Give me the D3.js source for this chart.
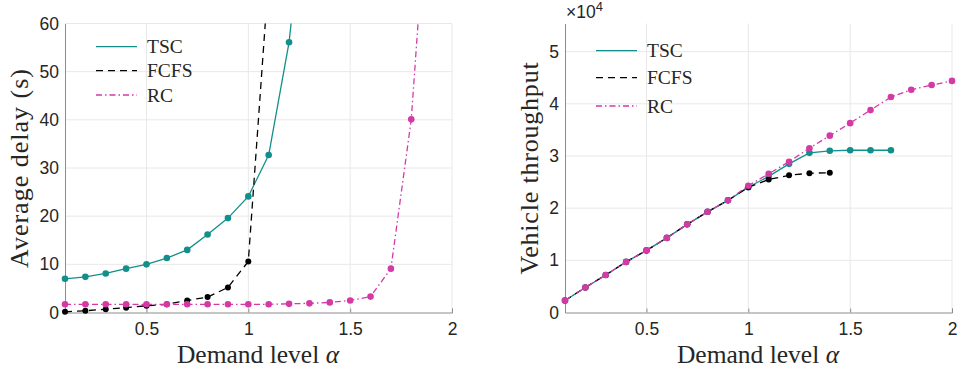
<!DOCTYPE html>
<html>
<head>
<meta charset="utf-8">
<script src="https://cdn.jsdelivr.net/npm/d3@7"></script>
<style>
  body { margin: 0; background: #fff; }
  svg { display: block; }
  .tick text { font-family: "Liberation Sans", Arial, sans-serif; font-size: 17.5px; fill: #262626; }
  .lbl { font-family: "Liberation Serif", "DejaVu Serif", serif; fill: #262626; }
</style>
</head>
<body>
<svg width="959" height="375"></svg>
<script>
// demand levels
const alpha = [0.1, 0.2, 0.3, 0.4, 0.5, 0.6, 0.7, 0.8, 0.9, 1.0, 1.1, 1.2, 1.3, 1.4, 1.5, 1.6, 1.7, 1.8, 1.9, 2.0];

// average delay (s)
const delayTSC  = [7.0, 7.4, 8.1, 9.1, 10.0, 11.3, 13.0, 16.2, 19.6, 24.1, 32.7, 56.1, 95];
const delayFCFS = [0.15, 0.35, 0.7, 1.0, 1.4, 1.7, 2.5, 3.2, 5.2, 10.6, 70];
const delayRC   = [1.7, 1.7, 1.7, 1.7, 1.7, 1.7, 1.7, 1.7, 1.7, 1.7, 1.7, 1.8, 1.9, 2.1, 2.5, 3.3, 9.1, 40.1, 100];

// vehicle throughput (x10^4)
const thrTSC  = [0.23, 0.48, 0.72, 0.97, 1.19, 1.43, 1.69, 1.93, 2.15, 2.40, 2.61, 2.85, 3.06, 3.10, 3.11, 3.11, 3.11];
const thrFCFS = [0.23, 0.48, 0.72, 0.97, 1.19, 1.43, 1.69, 1.93, 2.15, 2.40, 2.55, 2.63, 2.67, 2.68];
const thrRC   = [0.23, 0.48, 0.72, 0.97, 1.19, 1.43, 1.69, 1.93, 2.15, 2.43, 2.66, 2.89, 3.15, 3.39, 3.63, 3.88, 4.13, 4.27, 4.36, 4.44];

const xTicks = [0.5, 1, 1.5, 2];
const delayTicks = [0, 10, 20, 30, 40, 50, 60];
const thrTicks = [0, 1, 2, 3, 4, 5];
const names = ["TSC", "FCFS", "RC"];

const teal = "#128f8a", magenta = "#d43aa6";
const styles = [
  { color: teal, dash: null, r: 3.3 },
  { color: "#000", dash: "7,5", r: 3 },
  { color: magenta, dash: "6,3,1.5,3", r: 3.3 }
];

const svg = d3.select("svg");

function panel(opt) {
  const x = d3.scaleLinear().domain([0.1, 2]).range([opt.left, opt.left + 387]);
  const y = d3.scaleLinear().domain(opt.yDomain).range([312.5, 23.5]);
  const g = svg.append("g");
  const id = "clip" + opt.left;

  g.append("clipPath").attr("id", id).append("rect")
    .attr("x", opt.left - 5).attr("y", 23.5).attr("width", 400).attr("height", 300);

  // grid
  g.append("g").selectAll("line").data(xTicks).enter().append("line")
    .attr("x1", d => x(d)).attr("x2", d => x(d)).attr("y1", 23.5).attr("y2", 312.5)
    .attr("stroke", "#e8e8e8");
  g.append("g").selectAll("line").data(opt.yTicks.slice(1)).enter().append("line")
    .attr("x1", x(0.1)).attr("x2", x(2)).attr("y1", d => y(d)).attr("y2", d => y(d))
    .attr("stroke", "#e8e8e8");

  // axes
  const xa = g.append("g").attr("transform", "translate(0,312.5)")
    .call(d3.axisBottom(x).tickValues(xTicks).tickSize(-4).tickPadding(10).tickFormat(d3.format("")));
  const ya = g.append("g").attr("transform", "translate(" + x(0.1) + ",0)")
    .call(d3.axisLeft(y).tickValues(opt.yTicks).tickSize(0).tickPadding(6).tickFormat(d3.format("")));
  [xa, ya].forEach(a => {
    a.select(".domain").attr("stroke", "#8c8c8c");
    a.selectAll(".tick line").attr("stroke", "#8c8c8c");
  });
  xa.selectAll(".tick text").attr("dy", "0.72em");

  // series
  const line = d3.line().x(d => x(d[0])).y(d => y(d[1]));
  const plot = g.append("g").attr("clip-path", "url(#" + id + ")");
  opt.series.forEach((vals, i) => {
    const pts = vals.map((v, j) => [alpha[j], v]);
    const s = styles[i];
    plot.append("path").attr("d", line(pts)).attr("fill", "none")
      .attr("stroke", s.color).attr("stroke-width", 1.3)
      .attr("stroke-dasharray", s.dash);
    plot.selectAll(null).data(pts.filter(p => p[1] <= opt.yDomain[1])).enter().append("circle")
      .attr("cx", p => x(p[0])).attr("cy", p => y(p[1])).attr("r", s.r)
      .attr("fill", s.color);
  });

  // legend
  names.forEach((n, i) => {
    const ly = opt.legY[i];
    g.append("line").attr("x1", opt.legX).attr("x2", opt.legX + 41)
      .attr("y1", ly).attr("y2", ly)
      .attr("stroke", styles[i].color).attr("stroke-width", 1.3)
      .attr("stroke-dasharray", styles[i].dash);
    g.append("text").attr("class", "lbl").attr("x", opt.legX + 51).attr("y", ly + 6.5)
      .attr("font-size", 19.5).text(n);
  });

  // labels
  g.append("text").attr("class", "lbl").attr("font-size", 25.5)
    .attr("x", opt.left + 193).attr("y", 363).attr("text-anchor", "middle")
    .html('Demand level <tspan font-style="italic">α</tspan>');
  g.append("text").attr("class", "lbl").attr("font-size", 26)
    .attr("letter-spacing", opt.yLabSp)
    .attr("transform", "translate(" + opt.yLabX + ",168) rotate(-90)")
    .attr("text-anchor", "middle").text(opt.yLabel);
  return g;
}

panel({
  left: 65, yDomain: [0, 60], yTicks: delayTicks,
  series: [delayTSC, delayFCFS, delayRC],
  legX: 96, legY: [46.7, 70.7, 95], yLabel: "Average delay (s)", yLabX: 28, yLabSp: 1
});

const right = panel({
  left: 565, yDomain: [0, 5.54], yTicks: thrTicks,
  series: [thrTSC, thrFCFS, thrRC],
  legX: 596, legY: [50.7, 77.7, 106], yLabel: "Vehicle throughput", yLabX: 538, yLabSp: 0.8
});

right.append("text").attr("x", 566).attr("y", 18)
  .attr("font-family", "Liberation Sans, Arial, sans-serif").attr("font-size", 17.5).attr("fill", "#262626")
  .html('×10<tspan dy="-7" font-size="13">4</tspan>');
</script>
</body>
</html>
